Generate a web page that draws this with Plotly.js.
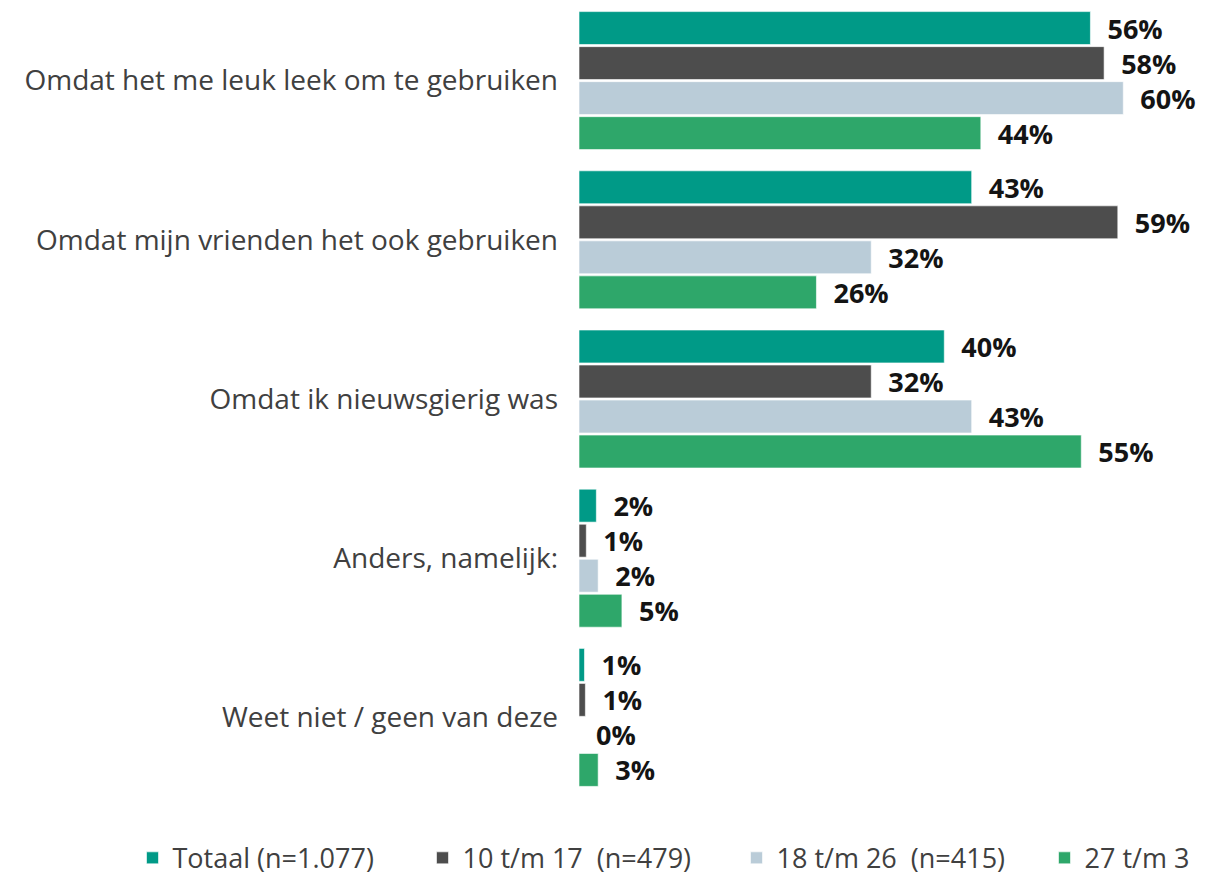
<!DOCTYPE html>
<html>
<head>
<meta charset="utf-8">
<script src="https://cdn.plot.ly/plotly-3.0.1.min.js"></script>
<style>html,body{margin:0;padding:0;background:#fff;overflow:hidden}#chart{width:1205px;height:876px}</style>
</head>
<body>
<div id="chart"></div>
<script>
var categories = [
  "Omdat het me leuk leek om te gebruiken",
  "Omdat mijn vrienden het ook gebruiken",
  "Omdat ik nieuwsgierig was",
  "Anders, namelijk:",
  "Weet niet / geen van deze"
];
var seriesNames = ["Totaal (n=1.077)", "10 t/m 17  (n=479)", "18 t/m 26  (n=415)", "27 t/m 3"];
var totaal   = [56, 43, 40, 1.9, 0.6];
var age10_17 = [57.5, 59, 32, 0.8, 0.7];
var age18_26 = [59.6, 32, 43, 2.1, 0];
var age27    = [44, 26, 55, 4.7, 2.1];
var totaalLabels   = ["56%", "43%", "40%", "2%", "1%"];
var age10_17Labels = ["58%", "59%", "32%", "1%", "1%"];
var age18_26Labels = ["60%", "32%", "43%", "2%", "0%"];
var age27Labels    = ["44%", "26%", "55%", "5%", "3%"];

var colors = ["#009A87", "#4D4D4D", "#BACCD8", "#2EA76A"];
var values = [totaal, age10_17, age18_26, age27];
var labels = [totaalLabels, age10_17Labels, age18_26Labels, age27Labels];
var legendWidths = [245, 269, 263, 108];

var traces = values.map(function (v, i) {
  return {
    type: "bar",
    orientation: "h",
    name: seriesNames[i],
    y: categories,
    x: v,
    text: labels[i].map(function (t) { return "\u00a0\u00a0" + t; }),
    textposition: "outside",
    constraintext: "none",
    cliponaxis: false,
    textfont: {family: "Open Sans, sans-serif", size: 27, color: "#141414", weight: "bold"},
    marker: {color: colors[i], line: {color: "rgba(255,255,255,0.6)", width: 1}},
    legendwidth: legendWidths[i],
    hoverinfo: "x+y+name"
  };
});

var layout = {
  width: 1205,
  height: 876,
  margin: {l: 579, r: 5, t: 1, b: 79, autoexpand: false},
  paper_bgcolor: "#ffffff",
  plot_bgcolor: "#ffffff",
  barmode: "group",
  bargap: 0.12,
  bargroupgap: 0.06,
  font: {family: "Open Sans, sans-serif", color: "#404040"},
  xaxis: {range: [0, 68], visible: false, fixedrange: true},
  yaxis: {
    autorange: "reversed",
    automargin: false,
    showline: false,
    showgrid: false,
    zeroline: false,
    ticks: "",
    ticklabelstandoff: 20,
    tickfont: {family: "Open Sans, sans-serif", size: 28, color: "#404040"},
    fixedrange: true
  },
  showlegend: true,
  legend: {
    orientation: "h",
    x: -0.719,
    xanchor: "left",
    y: -0.077,
    yanchor: "middle",
    traceorder: "normal",
    font: {family: "Open Sans, sans-serif", size: 27, color: "#404040"},
    itemclick: false,
    itemdoubleclick: false
  }
};

Plotly.newPlot("chart", traces, layout, {displayModeBar: false, staticPlot: true});
</script>
</body>
</html>
